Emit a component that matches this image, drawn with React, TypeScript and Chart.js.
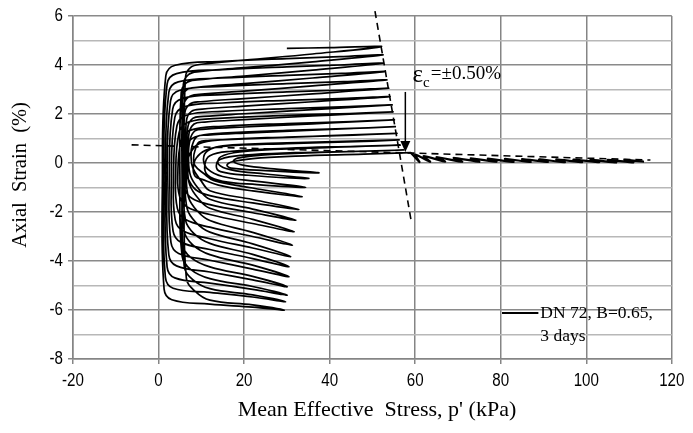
import React, { useEffect, useRef } from "react";
import { Chart, registerables } from "chart.js";

Chart.register(...registerables);

// Axis ranges / ticks
const xRange = [-20, 120];
const xStep = 20;
const yRange = [-8, 6];
const yStep = 1;
const xTickLabels = [-20, 0, 20, 40, 60, 80, 100, 120];
const yTickLabels = [-8, -6, -4, -2, 0, 2, 4, 6];

// Early small-strain cycles (p' dropping from ~113 kPa)
const bandPath: number[][] = [
  [113.5, 0.05], [109, 0.13], [111, 0.02], [105, 0.13], [107, 0.02], [101, 0.14], [103, 0.03],
  [97, 0.14], [99, 0.03], [93, 0.15], [95, 0.03], [89, 0.15], [91, 0.04], [85, 0.16], [87, 0.04],
  [81, 0.17], [83, 0.04], [77, 0.18], [79, 0.05], [73, 0.19], [75, 0.05], [69, 0.21], [71, 0.05],
  [65, 0.24], [67, 0.06], [62, 0.28], [63.5, 0.05], [60, 0.34], [61, 0.04], [59, 0.42],
];

// Large-strain cycles (each: descending half to negative tip, ascending half to positive tip)
const cycle0 = [[48, 0.36], [32, 0.28], [22, 0.18], [17, 0.04], [16, -0.1], [17.5, -0.22], [25, -0.31], [37.5, -0.4], [27, -0.24], [20, -0.1], [17.5, 0.06], [18.5, 0.2], [24, 0.32], [38, 0.43], [57.2, 0.53]];
const cycle1 = [[47, 0.48], [32, 0.42], [20, 0.32], [14.5, 0.15], [13.5, -0.12], [14.5, -0.35], [21, -0.5], [35.1, -0.63], [25, -0.45], [17, -0.28], [14, -0.05], [14.5, 0.25], [19, 0.45], [34, 0.6], [56.3, 0.73]];
const cycle2 = [[46, 0.68], [30, 0.6], [17, 0.48], [12, 0.3], [10.8, -0.1], [11.5, -0.5], [15, -0.75], [23, -0.88], [34.4, -0.99], [23, -0.75], [15, -0.55], [11.5, -0.25], [10.5, 0.15], [11.5, 0.5], [15, 0.7], [30, 0.82], [56.0, 0.94]];
const cycle3 = [[46, 0.87], [30, 0.79], [15, 0.68], [11, 0.52], [8.8, 0.2], [8.1, -0.25], [8.6, -0.55], [10.2, -0.67], [14, -0.9], [22, -1.14], [33.6, -1.37], [22, -1.02], [13, -0.72], [10.5, -0.42], [8.5, -0.1], [8.2, 0.2], [8.5, 0.5], [9.5, 0.86], [12, 0.92], [20, 0.98], [36, 1.09], [55.6, 1.21]];
const cycle4 = [[45.6, 1.14], [30, 1.06], [15, 0.95], [9.5, 0.79], [7.3, 0.36], [6.5, -0.3], [6.9, -0.64], [8.7, -1.09], [12, -1.33], [22, -1.63], [32.8, -1.89], [22, -1.49], [12, -1.13], [10, -0.74], [8, -0.2], [7.6, 0.3], [7.8, 0.68], [9, 1.08], [11.5, 1.14], [20, 1.22], [36, 1.34], [55.2, 1.48]];
const cycle5 = [[45.2, 1.41], [30, 1.33], [15, 1.22], [8.5, 1.06], [6.3, 0.63], [5.5, -0.42], [5.9, -0.98], [7.7, -1.43], [12, -1.7], [22, -2.03], [32.1, -2.33], [22, -1.88], [12, -1.48], [9.5, -1.08], [7.5, -0.53], [7, 0.2], [7.3, 0.91], [8.5, 1.31], [11, 1.38], [20, 1.47], [36, 1.6], [55.0, 1.76]];
const cycle6 = [[45, 1.69], [30, 1.61], [15, 1.5], [7.5, 1.34], [5.3, 0.91], [4.5, -0.52], [4.9, -1.35], [6.7, -1.8], [12, -2.1], [22, -2.47], [31.7, -2.8], [22, -2.3], [12, -1.85], [9.3, -1.45], [7.3, -0.9], [6.8, -0.2], [7.1, 1.19], [8.3, 1.59], [10.8, 1.67], [20, 1.77], [36, 1.92], [54.7, 2.09]];
const cycle7 = [[44.7, 2.02], [30, 1.94], [15, 1.83], [7, 1.67], [4.8, 1.24], [4, -0.63], [4.4, -1.85], [6.2, -2.3], [12, -2.62], [22, -3.0], [31.3, -3.35], [22, -2.83], [12, -2.35], [9, -1.95], [7, -1.4], [6.5, -0.49], [6.8, 1.42], [8, 1.82], [10.5, 1.9], [20, 2.01], [36, 2.18], [54.5, 2.37]];
const cycle8 = [[44.5, 2.3], [30, 2.22], [15, 2.11], [6.5, 1.95], [4.3, 1.52], [3.5, -0.73], [3.9, -2.32], [5.7, -2.77], [12, -3.09], [22, -3.47], [30.9, -3.82], [22, -3.3], [12, -2.82], [8.7, -2.42], [6.7, -1.87], [6.2, -0.56], [6.5, 1.71], [7.7, 2.11], [10.2, 2.2], [20, 2.32], [36, 2.5], [54.0, 2.71]];
const cycle9 = [[44, 2.64], [30, 2.56], [15, 2.45], [6, 2.29], [3.8, 1.86], [3, -0.76], [3.4, -2.78], [5.2, -3.23], [12, -3.53], [22, -3.9], [30.5, -4.23], [22, -3.73], [12, -3.28], [8.3, -2.88], [6.3, -2.33], [5.8, -0.59], [6.1, 2.0], [7.3, 2.4], [9.8, 2.5], [20, 2.63], [36, 2.82], [53.7, 3.05]];
const cycle10 = [[43.7, 2.98], [30, 2.9], [15, 2.79], [5.5, 2.63], [3.3, 2.2], [2.5, -0.8], [2.9, -3.24], [4.7, -3.69], [12, -3.97], [22, -4.33], [30.5, -4.64], [22, -4.17], [12, -3.74], [8, -3.34], [6, -2.79], [5.5, -0.63], [5.8, 2.29], [7, 2.69], [9.5, 2.8], [20, 2.93], [36, 3.15], [53.3, 3.39]];
const cycle11 = [[43.3, 3.32], [30, 3.24], [15, 3.13], [5, 2.97], [2.8, 2.54], [2, -0.83], [2.4, -3.75], [4.2, -4.2], [12, -4.45], [22, -4.77], [30.1, -5.05], [22, -4.63], [12, -4.24], [7.5, -3.85], [5.5, -3.3], [5, -0.66], [5.3, 2.58], [6.5, 2.98], [9, 3.09], [20, 3.24], [36, 3.47], [52.8, 3.73]];
const cycle12 = [[42.8, 3.66], [30, 3.58], [15, 3.47], [4.6, 3.31], [2.4, 2.88], [1.6, -0.83], [2, -4.24], [3.8, -4.69], [12, -4.9], [22, -5.16], [30.1, -5.39], [22, -5.04], [12, -4.72], [7.5, -4.34], [5.5, -3.79], [5, -0.66], [5.3, 2.87], [6.5, 3.27], [9, 3.39], [20, 3.55], [36, 3.79], [52.5, 4.07]];
const cycle13 = [[42.5, 4.0], [30, 3.92], [15, 3.81], [4.2, 3.65], [2, 3.22], [1.2, -0.8], [1.6, -4.66], [3.4, -5.11], [12, -5.28], [22, -5.47], [29.7, -5.66], [22, -5.38], [12, -5.13], [8, -4.76], [6, -4.21], [5.5, -0.63], [5.8, 3.21], [7, 3.61], [9.5, 3.73], [20, 3.89], [36, 4.13], [52.4, 4.41]];
const cycle14 = [[42.4, 4.34], [30, 4.26], [15, 4.15], [3.9, 3.99], [1.7, 3.56], [0.9, -0.8], [1.3, -5.15], [3.1, -5.58], [12, -5.76], [22, -5.88], [29.4, -6.0], [22, -5.79], [12, -5.6], [8.5, -5.23], [6.5, -4.7], [6, -0.63], [6.3, 3.5], [7.5, 3.9], [10, 4.03], [20, 4.2], [36, 4.45], [52.1, 4.75], [40, 4.71], [30, 4.68]];

const cycles = [cycle0, cycle1, cycle2, cycle3, cycle4, cycle5, cycle6, cycle7, cycle8, cycle9, cycle10, cycle11, cycle12, cycle13, cycle14];

// Dashed reference lines and the arrow
const peakLine = [[50.6, 6.2], [59.1, -2.4]];
const trendLine = [[-6.3, 0.74], [115, 0.12]];
const arrowLine = [[57.7, 2.9], [57.7, 0.45]];

const seriesLabel = ["DN 72, B=0.65,", "3 days"];
const xTitle = "Mean Effective  Stress, p' (kPa)";
const yTitle = "Axial  Strain  (%)";

const sans = "'Liberation Sans', Arial, sans-serif";
const serif = "'Liberation Serif', 'Times New Roman', serif";

const annotations = {
  id: "annotations",
  afterDatasetsDraw(chart: any) {
    const { ctx, scales } = chart;
    const X = (v: number) => scales.x.getPixelForValue(v);
    const Y = (v: number) => scales.y.getPixelForValue(v);
    ctx.save();
    ctx.strokeStyle = "#000";
    ctx.lineWidth = 1.6;
    ctx.setLineDash([7, 5]);
    for (const ln of [peakLine, trendLine]) {
      ctx.beginPath();
      ctx.moveTo(X(ln[0][0]), Y(ln[0][1]));
      ctx.lineTo(X(ln[1][0]), Y(ln[1][1]));
      ctx.stroke();
    }
    ctx.setLineDash([]);
    // arrow
    const ax = X(arrowLine[0][0]);
    const ay0 = Y(arrowLine[0][1]);
    const ay1 = Y(arrowLine[1][1]);
    ctx.lineWidth = 1.5;
    ctx.beginPath();
    ctx.moveTo(ax, ay0);
    ctx.lineTo(ax, ay1 - 8);
    ctx.stroke();
    ctx.fillStyle = "#000";
    ctx.beginPath();
    ctx.moveTo(ax - 5, ay1 - 11);
    ctx.lineTo(ax + 5, ay1 - 11);
    ctx.lineTo(ax, ay1);
    ctx.closePath();
    ctx.fill();
    // epsilon label
    ctx.fillStyle = "#000";
    ctx.textBaseline = "alphabetic";
    ctx.textAlign = "left";
    const tx = X(59.4);
    const ty = Y(3.3);
    ctx.font = `25px ${serif}`;
    ctx.fillText("ε", tx, ty);
    const w1 = ctx.measureText("ε").width;
    ctx.font = `15px ${serif}`;
    ctx.fillText("c", tx + w1, ty + 5);
    const w2 = ctx.measureText("c").width;
    ctx.font = `19px ${serif}`;
    ctx.fillText("=±0.50%", tx + w1 + w2 + 1, ty - 3);
    // series label
    const lx0 = X(80.3);
    const lx1 = X(88.8);
    const ly = Y(-6.12);
    ctx.lineWidth = 2;
    ctx.beginPath();
    ctx.moveTo(lx0, ly);
    ctx.lineTo(lx1, ly);
    ctx.stroke();
    ctx.font = `17.5px ${serif}`;
    ctx.textBaseline = "middle";
    ctx.fillText(seriesLabel[0], lx1 + 2, ly);
    ctx.fillText(seriesLabel[1], lx1 + 2, ly + 23);
    ctx.restore();
  },
  afterDraw(chart: any) {
    const { ctx, scales } = chart;
    const X = (v: number) => scales.x.getPixelForValue(v);
    const Y = (v: number) => scales.y.getPixelForValue(v);
    ctx.save();
    ctx.fillStyle = "#000";
    // narrow tick labels
    ctx.font = `18px ${sans}`;
    ctx.textBaseline = "middle";
    ctx.textAlign = "center";
    const xLabelY = scales.x.top + 22;
    for (const v of xTickLabels) {
      ctx.save();
      ctx.translate(X(v), xLabelY);
      ctx.scale(0.84, 1);
      ctx.fillText(String(v), 0, 0);
      ctx.restore();
    }
    ctx.textAlign = "right";
    for (const v of yTickLabels) {
      ctx.save();
      ctx.translate(scales.y.right - 10, Y(v));
      ctx.scale(0.84, 1);
      ctx.fillText(String(v), 0, 0);
      ctx.restore();
    }
    // axis titles
    ctx.textAlign = "center";
    ctx.font = `22px ${serif}`;
    ctx.fillText(xTitle, 377, 410);
    ctx.translate(21, 175);
    ctx.rotate(-Math.PI / 2);
    ctx.font = `20.5px ${serif}`;
    ctx.fillText(yTitle, 0, 0);
    ctx.restore();
  },
};

export default function App() {
  const ref = useRef<HTMLCanvasElement>(null);
  useEffect(() => {
    const toPts = (arr: number[][]) => arr.map(([x, y]) => ({ x, y }));
    const loopPts = toPts([bandPath[bandPath.length - 1], ...cycles.flat()]);
    const chart = new Chart(ref.current as HTMLCanvasElement, {
      type: "scatter",
      data: {
        datasets: [
          { data: toPts(bandPath), showLine: true, borderColor: "#000", borderWidth: 2.2, pointRadius: 0, tension: 0.2 } as any,
          { data: loopPts, showLine: true, borderColor: "#000", borderWidth: 1.7, pointRadius: 0, tension: 0.4 } as any,
        ],
      },
      options: {
        responsive: false,
        animation: false,
        events: [],
        layout: { padding: { top: 16, right: 16, left: 0, bottom: 0 } },
        plugins: { legend: { display: false }, tooltip: { enabled: false } },
        scales: {
          x: {
            type: "linear",
            min: xRange[0],
            max: xRange[1],
            ticks: { stepSize: xStep, color: "rgba(0,0,0,0)", font: { size: 17 }, padding: 7 },
            grid: { color: "#858585", lineWidth: 1.5, tickLength: 5, tickColor: "#858585" },
            border: { color: "#858585", width: 1.5 },
            afterFit: (s: any) => { s.height = 74; },
          },
          y: {
            type: "linear",
            min: yRange[0],
            max: yRange[1],
            ticks: { stepSize: yStep, color: "rgba(0,0,0,0)", font: { size: 17 }, padding: 5 },
            grid: {
              color: (c: any) => (c.tick && Math.round(c.tick.value) % 2 === 0 ? "#8a8a8a" : "#b8b8b8"),
              lineWidth: 1.5,
              tickLength: 5,
              tickColor: (c: any) => (c.tick && Math.round(c.tick.value) % 2 === 0 ? "#858585" : "rgba(0,0,0,0)"),
            },
            border: { color: "#858585", width: 1.5 },
            afterFit: (s: any) => { s.width = 73; },
          },
        },
      },
      plugins: [annotations],
    });
    return () => chart.destroy();
  }, []);
  return (
    <div style={{ position: "fixed", left: 0, top: 0, width: 693, height: 433, background: "#fff" }}>
      <canvas ref={ref} width={693} height={433} style={{ width: 693, height: 433 }} />
    </div>
  );
}
